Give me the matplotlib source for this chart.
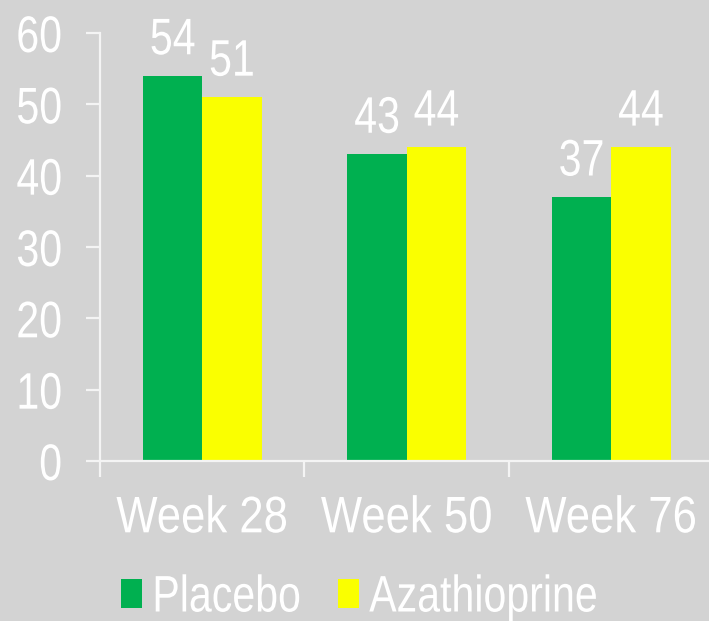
import matplotlib.pyplot as plt
import matplotlib.patheffects as pe
from matplotlib.transforms import Affine2D
import numpy as np

weeks = ["Week 28", "Week 50", "Week 76"]
placebo = [54, 43, 37]
azathioprine = [51, 44, 44]
yticks = [0, 10, 20, 30, 40, 50, 60]

bg = "#D3D3D3"
green = "#00B050"
yellow = "#FAFF00"
white = "#FFFFFF"
axcol = "#F4F4F4"


# the original font is a bit condensed, squeeze glyphs horizontally
class Condense(pe.AbstractPathEffect):
    def __init__(self, sx=0.8, anchor="center"):
        super().__init__()
        self.sx = sx
        self.anchor = anchor

    def draw_path(self, renderer, gc, tpath, affine, rgbFace=None):
        ext = tpath.get_extents()
        if self.anchor == "center":
            cx = (ext.x0 + ext.x1) / 2
        elif self.anchor == "right":
            cx = ext.x1
        else:
            cx = 0
        t = Affine2D().translate(-cx, 0).scale(self.sx, 1).translate(cx, 0) + affine
        renderer.draw_path(gc, tpath, t, rgbFace)


plt.rcParams['font.family'] = ['Liberation Sans', 'DejaVu Sans']
fs = 37

fig = plt.figure(figsize=(7.09, 6.21), dpi=100, facecolor=bg)
ax = fig.add_axes([100/709, 1-461/621, 613.5/709, 428/621])
ax.set_facecolor(bg)

x = np.arange(len(weeks))
w = 0.29
b1 = ax.bar(x - w/2, placebo, w, color=green, label="Placebo")
b2 = ax.bar(x + w/2, azathioprine, w, color=yellow, label="Azathioprine")

for bars, vals in [(b1, placebo), (b2, azathioprine)]:
    for r, v in zip(bars, vals):
        ax.annotate(str(v), (r.get_x() + r.get_width()/2, v), xytext=(0, 15.5),
                    textcoords="offset points", ha="center", va="baseline",
                    color=white, fontsize=fs,
                    path_effects=[Condense(0.8, "center")])

ax.set_xlim(-0.5, 2.5)
ax.set_ylim(0, 60)
ax.set_yticks(yticks)
ax.set_xticks(x)
ax.set_xticklabels(weeks)
ax.set_xticks([-0.5, 0.5, 1.5, 2.5], minor=True)

for s in ["top", "right"]:
    ax.spines[s].set_visible(False)
for s in ["left", "bottom"]:
    ax.spines[s].set_color(axcol)
    ax.spines[s].set_linewidth(1.6)

ax.tick_params(axis="y", colors=axcol, labelcolor=white, labelsize=fs,
               length=10, width=1.6, pad=17)
ax.tick_params(axis="x", which="major", length=0, labelcolor=white, labelsize=fs, pad=24)
ax.tick_params(axis="x", which="minor", colors=axcol, length=11.5, width=1.6)

for t in ax.get_yticklabels():
    t.set_path_effects([Condense(0.8, "right")])
for t in ax.get_xticklabels():
    t.set_path_effects([Condense(0.85, "center")])

leg = fig.legend(loc="center left", bbox_to_anchor=(121/709, 1-598/621), ncol=2,
                 frameon=False, fontsize=fs, labelcolor=white,
                 handlelength=0.41, handleheight=0.48, handletextpad=0.2,
                 columnspacing=0.0, borderpad=0, borderaxespad=0)
for t in leg.get_texts():
    t.set_path_effects([Condense(0.8, "left")])

fig.savefig("out.png", dpi=100, facecolor=bg)
